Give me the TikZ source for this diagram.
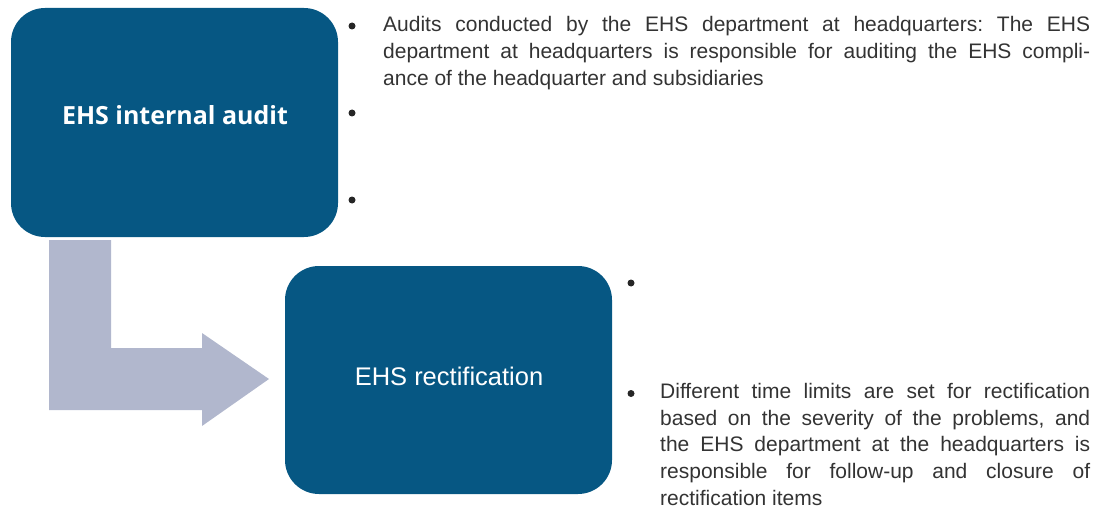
\documentclass[tikz,border=0pt]{standalone}
\usepackage{fontspec}
\setmainfont{Liberation Sans}
\newfontfamily\headfont{Open Sans}
\definecolor{boxblue}{HTML}{065783}
\definecolor{arrowfill}{HTML}{B1B7CD}
\definecolor{bodytext}{HTML}{333333}
\tikzset{
  stagebox/.style={fill=boxblue, draw=none, rounded corners=34pt, inner sep=0pt},
  stagelabel/.style={text=white, inner sep=0pt, anchor=base},
  bulletdot/.style={circle, fill=black!85, draw=none, inner sep=0pt, minimum size=7pt},
  bodypar/.style={anchor=base west, inner sep=0pt, text=bodytext, font=\fontsize{21}{26.7}\selectfont},
  flowarrow/.style={fill=arrowfill, draw=none},
}
\begin{document}
\begin{tikzpicture}[x=1pt,y=-1pt]
\useasboundingbox (0,0) rectangle (1103,508);
% stage boxes
\node[stagebox, minimum width=327pt, minimum height=229pt] (audit) at (174.5,122.5) {};
\node[stagebox, minimum width=327pt, minimum height=228pt] (rect) at (448.5,380) {};
\node[stagelabel, font=\headfont\bfseries\fontsize{25}{30}\selectfont] (auditlabel) at (175,125) {EHS internal audit};
\node[stagelabel, font=\fontsize{25.5}{30}\selectfont] (rectlabel) at (449,385) {EHS rectification};
% bent arrow
\fill[flowarrow] (49,240) -- (111,240) -- (111,348) -- (202,348) -- (202,333) -- (269,379) -- (202,426) -- (202,410) -- (49,410) -- cycle;
% bullets
\node[bulletdot] (b1) at (352,26) {};
\node[bulletdot] (b2) at (352,113) {};
\node[bulletdot] (b3) at (352,200) {};
\node[bulletdot] (b4) at (631,283) {};
\node[bulletdot] (b5) at (631,393.5) {};
% texts
\node[bodypar] (p1) at (383,32) {\parbox[t]{707pt}{\frenchspacing\tolerance=10000\hyphenpenalty=10000 Audits conducted by the EHS department at headquarters: The EHS\linebreak department at headquarters is responsible for auditing the EHS compli-\linebreak ance of the headquarter and subsidiaries}};
\node[bodypar] (p5) at (660,398.5) {\parbox[t]{430pt}{\frenchspacing\tolerance=10000\hyphenpenalty=10000 Different time limits are set for rectification\linebreak based on the severity of the problems, and\linebreak the EHS department at the headquarters is\linebreak responsible for follow-up and closure of\linebreak rectification items}};
\end{tikzpicture}
\end{document}
